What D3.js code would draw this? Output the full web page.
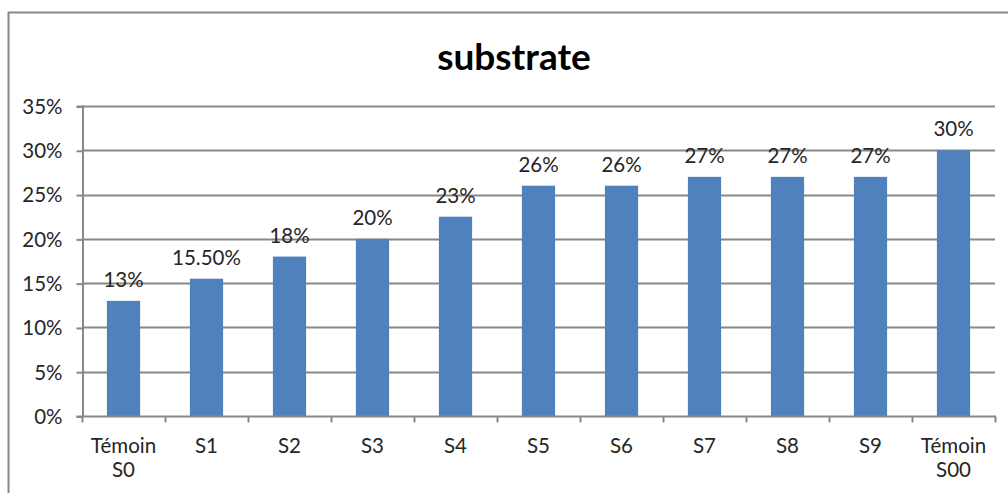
<!DOCTYPE html>
<html>
<head>
<meta charset="utf-8">
<script src="https://cdn.jsdelivr.net/npm/d3@7"></script>
<style>
  html, body { margin: 0; padding: 0; background: #fff; }
  svg { display: block; }
  text { font-family: Lato, "Open Sans", sans-serif; fill: #262626; }
</style>
</head>
<body>
<script>
// Substrate share per treatment (percent)
const categories = ["Témoin S0", "S1", "S2", "S3", "S4", "S5", "S6", "S7", "S8", "S9", "Témoin S00"];
const values = [13, 15.5, 18, 20, 22.5, 26, 26, 27, 27, 27, 30];
// decimals shown in each data label
const labelDecimals = [0, 2, 0, 0, 0, 0, 0, 0, 0, 0, 0];
const yTicks = [0, 5, 10, 15, 20, 25, 30, 35];
const title = "substrate";

const W = 1008, H = 493;
const margin = { left: 82, right: 13, top: 106, bottom: 77 };
const FS = 20.5;

const svg = d3.select("body").append("svg").attr("width", W).attr("height", H);

// outer chart frame
svg.append("rect")
  .attr("x", 8.5).attr("y", 12.5)
  .attr("width", W + 20).attr("height", H + 20)
  .attr("fill", "none").attr("stroke", "#888").attr("stroke-width", 2);

const x = d3.scaleBand()
  .domain(categories)
  .range([margin.left, W - margin.right])
  .paddingInner(0.6)
  .paddingOuter(0.3);

const y = d3.scaleLinear()
  .domain([0, 35])
  .range([H - margin.bottom, margin.top]);

const step = x.step();
const x0 = margin.left, x1 = W - margin.right;

// title
svg.append("text")
  .attr("x", 514).attr("y", 70)
  .attr("text-anchor", "middle")
  .attr("font-size", 37).attr("font-weight", "bold")
  .style("fill", "#000")
  .text(title);

// horizontal gridlines
svg.append("g").selectAll("line")
  .data(yTicks.filter(t => t > 0))
  .join("line")
  .attr("x1", x0).attr("x2", x1)
  .attr("y1", d => Math.round(y(d)) + 0.5).attr("y2", d => Math.round(y(d)) + 0.5)
  .attr("stroke", "#888").attr("stroke-width", 2);

// y axis
const yAxis = svg.append("g")
  .attr("transform", `translate(${x0 + 0.5},0)`)
  .call(d3.axisLeft(y).tickValues(yTicks).tickSize(6).tickPadding(14).tickFormat(d => d + "%"));
yAxis.select(".domain").attr("stroke", "#888").attr("stroke-width", 2);
yAxis.selectAll(".tick line").attr("stroke", "#888").attr("stroke-width", 2)
  .attr("transform", "translate(0,0.5)");
yAxis.selectAll(".tick text").attr("font-size", FS).attr("dy", "0.36em")
  .attr("font-family", "Lato, 'Open Sans', sans-serif").style("fill", "#262626");

// bars
svg.append("g").selectAll("rect")
  .data(values)
  .join("rect")
  .attr("x", (d, i) => x(categories[i]))
  .attr("width", x.bandwidth())
  .attr("y", d => y(d))
  .attr("height", d => y(0) - y(d))
  .attr("fill", "#4F81BD");

// data labels
svg.append("g").selectAll("text")
  .data(values)
  .join("text")
  .attr("x", (d, i) => x(categories[i]) + x.bandwidth() / 2)
  .attr("y", d => y(d) - 14)
  .attr("text-anchor", "middle")
  .attr("font-size", FS)
  .text((d, i) => d.toFixed(labelDecimals[i]) + "%");

// x axis line
const yBase = Math.round(y(0)) + 0.5;
svg.append("line")
  .attr("x1", x0).attr("x2", x1 + 1)
  .attr("y1", yBase).attr("y2", yBase)
  .attr("stroke", "#888").attr("stroke-width", 2);

// x tick marks at category boundaries
const bounds = categories.map(c => x(c) - (step - x.bandwidth()) / 2).concat([x1]);
svg.append("g").selectAll("line")
  .data(bounds)
  .join("line")
  .attr("x1", d => Math.round(d) + 0.5).attr("x2", d => Math.round(d) + 0.5)
  .attr("y1", yBase).attr("y2", yBase + 6)
  .attr("stroke", "#888").attr("stroke-width", 2);

// category labels, wrapped on spaces
const xl = svg.append("g").selectAll("text")
  .data(categories)
  .join("text")
  .attr("x", d => x(d) + x.bandwidth() / 2)
  .attr("y", 453)
  .attr("text-anchor", "middle")
  .attr("font-size", FS);
xl.each(function (d) {
  const t = d3.select(this);
  const cx = x(d) + x.bandwidth() / 2;
  d.split(" ").forEach((w, k) => {
    t.append("tspan").attr("x", cx).attr("dy", k === 0 ? 0 : 24).text(w);
  });
});
</script>
</body>
</html>
